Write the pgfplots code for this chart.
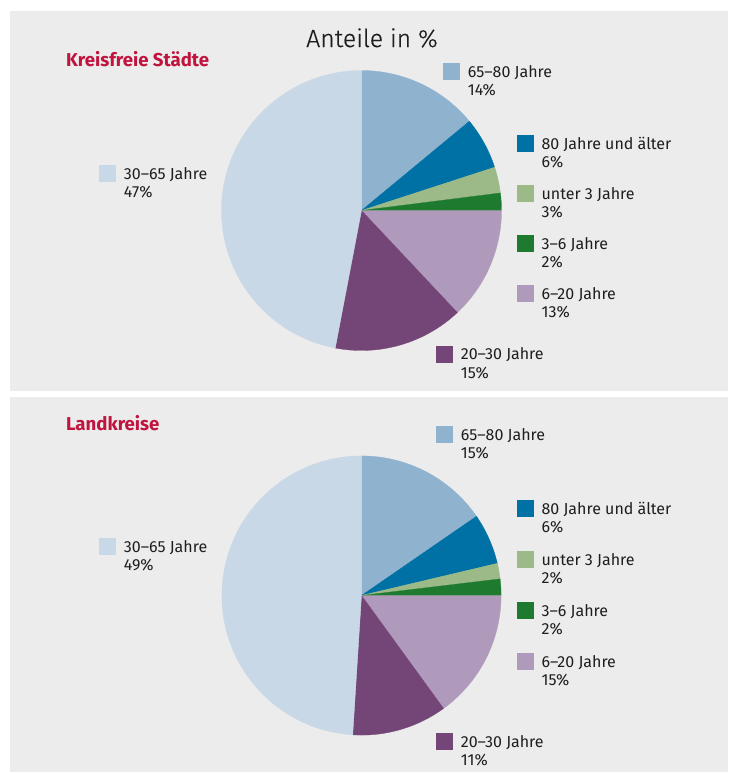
\documentclass[border=0pt]{standalone}
\usepackage{fontspec}
\setmainfont{Fira Sans}
\newfontfamily\lightfont{Fira Sans Light}[FakeBold=0.5]
\usepackage{pgfplots}
\usepackage{pgfplotstable}
\pgfplotsset{compat=1.18}
\definecolor{panel}{HTML}{ECECEC}
\definecolor{txt}{HTML}{1E1E1E}
\definecolor{redt}{HTML}{C0133E}
\definecolor{cA}{HTML}{C8D8E6}% 30-65
\definecolor{cB}{HTML}{8FB2CF}% 65-80
\definecolor{cC}{HTML}{0071A4}% 80+
\definecolor{cD}{HTML}{9BBA88}% unter 3
\definecolor{cE}{HTML}{1E7A2E}% 3-6
\definecolor{cF}{HTML}{B09ABB}% 6-20
\definecolor{cG}{HTML}{744677}% 20-30

% Kreisfreie Staedte, clockwise from 12 o'clock
\pgfplotstableread{
value color
14 cB
6 cC
3 cD
2 cE
13 cF
15 cG
47 cA
}\tabA
% Landkreise
\pgfplotstableread{
value color
15.4 cB
5.9 cC
1.8 cD
1.9 cE
15 cF
11 cG
49 cA
}\tabB

\newcommand{\drawpie}[4]{%
  \pgfplotstablegetrowsof{#1}%
  \pgfmathtruncatemacro\lastrow{\pgfplotsretval-1}%
  \gdef\curang{90}%
  \foreach \i in {0,...,\lastrow}{%
    \pgfplotstablegetelem{\i}{value}\of{#1}\let\val\pgfplotsretval
    \pgfplotstablegetelem{\i}{color}\of{#1}\let\col\pgfplotsretval
    \pgfmathsetmacro\newang{\curang-3.6*\val}%
    \fill[fill=\col, draw=\col, line width=0.15pt] (axis cs:#2,#3) -- ++(\curang:#4) arc[start angle=\curang, end angle=\newang, radius=#4] -- cycle;
    \xdef\curang{\newang}%
  }%
}
\newcommand{\leg}[5]{%
  \fill[#3] (axis cs:#1,#2) rectangle (axis cs:#1+17,#2+17);
  \node[anchor=base west, inner sep=0pt, text=txt, font=\fontsize{8pt}{9pt}\selectfont] at (axis cs:#1+24.5,#2+14.2) {#4};
  \node[anchor=base west, inner sep=0pt, text=txt, font=\fontsize{8pt}{9pt}\selectfont] at (axis cs:#1+24.5,#2+32.5) {#5};
}

\begin{document}
\begin{tikzpicture}
\begin{axis}[
  scale only axis, width=365pt, height=386.5pt,
  xmin=0, xmax=730, ymin=0, ymax=773, y dir=reverse,
  hide axis, clip=false]
\fill[white] (axis cs:0,0) rectangle (axis cs:730,773);
\fill[panel] (axis cs:9.5,11) rectangle (axis cs:727.7,391);
\fill[panel] (axis cs:9.5,397) rectangle (axis cs:727.7,772);

\pgfplotsextra{\drawpie{\tabA}{361.5}{210.5}{70pt}}
\pgfplotsextra{\drawpie{\tabB}{361.5}{595.5}{69.8pt}}

\node[anchor=base, inner sep=0pt, text=txt, font=\lightfont\fontsize{12.4pt}{14pt}\selectfont] at (axis cs:372,47) {Anteile in \%};
\node[anchor=base west, inner sep=0pt, text=redt, font=\bfseries\fontsize{9.3pt}{11pt}\selectfont] at (axis cs:65.7,66.5) {Kreisfreie Städte};
\node[anchor=base west, inner sep=0pt, text=redt, font=\bfseries\fontsize{9.3pt}{11pt}\selectfont] at (axis cs:65.7,430) {Landkreise};

% top legend
\leg{99}{165}{cA}{30--65 Jahre}{47\%}
\leg{443}{63}{cB}{65--80 Jahre}{14\%}
\leg{516.7}{135}{cC}{80 Jahre und älter}{6\%}
\leg{516.7}{185}{cD}{unter 3 Jahre}{3\%}
\leg{516.7}{235}{cE}{3--6 Jahre}{2\%}
\leg{516.7}{285}{cF}{6--20 Jahre}{13\%}
\leg{436}{345.7}{cG}{20--30 Jahre}{15\%}
% bottom legend
\leg{99}{538.3}{cA}{30--65 Jahre}{49\%}
\leg{436}{426}{cB}{65--80 Jahre}{15\%}
\leg{516.7}{500}{cC}{80 Jahre und älter}{6\%}
\leg{516.7}{551}{cD}{unter 3 Jahre}{2\%}
\leg{516.7}{602.3}{cE}{3--6 Jahre}{2\%}
\leg{516.7}{653.3}{cF}{6--20 Jahre}{15\%}
\leg{436}{733.3}{cG}{20--30 Jahre}{11\%}
\end{axis}
\end{tikzpicture}
\end{document}
